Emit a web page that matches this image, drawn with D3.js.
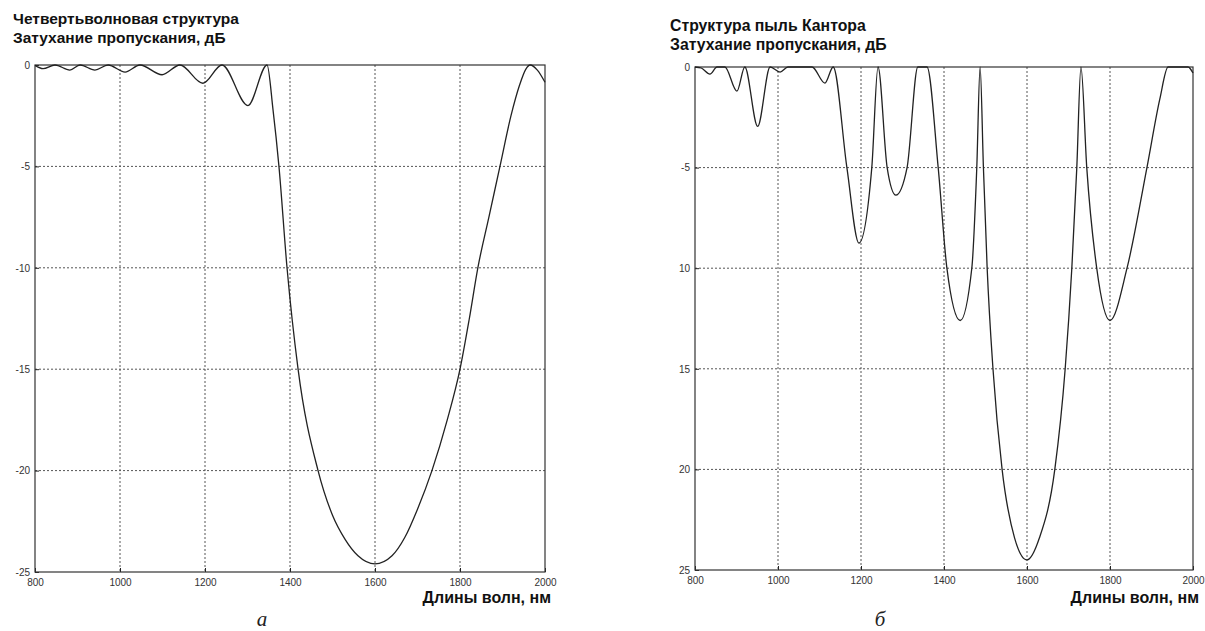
<!DOCTYPE html>
<html>
<head>
<meta charset="utf-8">
<script src="https://cdn.jsdelivr.net/npm/d3@7"></script>
<style>
  body { margin: 0; background: #fff; }
  svg { display: block; }
  .title { font-family: "Liberation Sans", Arial, sans-serif; font-weight: bold; fill: #111; }
  .tick text { font-family: "Liberation Sans Narrow", "Liberation Sans", Arial, sans-serif; font-size: 10px; fill: #333; }
  .xlabel { font-family: "Liberation Sans", Arial, sans-serif; font-weight: bold; font-size: 16px; fill: #111; }
  .caption { font-family: "Liberation Serif", "DejaVu Serif", serif; font-style: italic; font-size: 21px; fill: #222; }
</style>
</head>
<body>
<svg width="1205" height="631"></svg>
<script>
// data

var xTicks = [800, 1000, 1200, 1400, 1600, 1800, 2000];
var yTicks = [0, -5, -10, -15, -20, -25];
var leftYLabels = ["0", "-5", "-10", "-15", "-20", "-25"];
var rightYLabels = ["0", "-5", "10", "15", "20", "25"];

// (a) quarter-wave structure
var quarterNm = [800, 819, 847, 882, 906, 941, 972, 1012, 1047, 1099, 1141, 1195, 1240, 1301, 1346,
  1360, 1374, 1393, 1419, 1466, 1500, 1530, 1560, 1600, 1640, 1670, 1700, 1734, 1770,
  1800, 1822, 1842, 1868, 1894, 1920, 1940, 1955, 1965, 1982, 2000];
var quarterDb = [-0.02, -0.18, 0, -0.25, 0, -0.25, 0, -0.35, 0, -0.48, 0, -0.9, 0, -2.0, 0,
  -2.2, -5, -10, -15, -20, -22.2, -23.4, -24.2, -24.6, -24.2, -23.3, -21.9, -20, -17.5,
  -15, -12.5, -10, -7.5, -5, -2.5, -1.0, -0.2, 0, -0.25, -0.85];

// (б) Cantor dust structure
var cantorNm = [800, 815, 836, 853, 872, 901, 920, 951, 981, 1005, 1024, 1082, 1113, 1133, 1166,
  1195, 1226, 1241, 1263, 1284, 1311, 1337, 1359, 1386, 1407, 1439, 1467, 1479, 1487, 1495,
  1504, 1518, 1540, 1570, 1600, 1630, 1667, 1692, 1708, 1720, 1730, 1744, 1768, 1800, 1841,
  1889, 1920, 1940, 1988, 2000];
var cantorDb = [0, -0.05, -0.35, 0, 0, -1.2, 0, -2.95, 0, -0.25, 0, 0, -0.8, 0, -5,
  -8.75, -5, 0, -5, -6.37, -5, 0, 0, -5, -10, -12.6, -10, -5, 0, -5,
  -10, -15, -20, -23.4, -24.5, -23.4, -20, -15, -10, -5, 0, -5, -10, -12.6, -10,
  -5, -1.6, 0, 0, -0.3];

var svg = d3.select("svg");

function drawPanel(p) {
  var x = d3.scaleLinear().domain([800, 2000]).range([p.x0, p.x1]);
  var y = d3.scaleLinear().domain([-25, 0]).range([p.y1, p.y0]);
  var g = svg.append("g");

  // dotted grid
  g.selectAll(".vgrid")
    .data(xTicks.slice(1, -1))
    .enter().append("line")
    .attr("x1", function(d) { return x(d); })
    .attr("x2", function(d) { return x(d); })
    .attr("y1", p.y0).attr("y2", p.y1)
    .attr("stroke", "#555").attr("stroke-width", 1)
    .attr("stroke-dasharray", "2,2");
  g.selectAll(".hgrid")
    .data(yTicks.slice(1, -1))
    .enter().append("line")
    .attr("x1", p.x0).attr("x2", p.x1)
    .attr("y1", function(d) { return y(d); })
    .attr("y2", function(d) { return y(d); })
    .attr("stroke", "#555").attr("stroke-width", 1)
    .attr("stroke-dasharray", "2,2");

  // axes
  var xAxis = d3.axisBottom(x).tickValues(xTicks).tickSize(-4).tickPadding(7)
    .tickFormat(d3.format("d"));
  g.append("g")
    .attr("transform", "translate(0," + p.y1 + ")")
    .call(xAxis)
    .call(function(s) { s.select(".domain").remove(); s.selectAll("line").attr("stroke", "#222"); });

  var yAxis = d3.axisLeft(y).tickValues(yTicks).tickSize(-4).tickPadding(5)
    .tickFormat(function(d) { return p.yLabels[yTicks.indexOf(d)]; });
  g.append("g")
    .attr("transform", "translate(" + p.x0 + ",0)")
    .call(yAxis)
    .call(function(s) { s.select(".domain").remove(); s.selectAll("line").attr("stroke", "#222"); });

  // frame
  g.append("rect")
    .attr("x", p.x0).attr("y", p.y0)
    .attr("width", p.x1 - p.x0).attr("height", p.y1 - p.y0)
    .attr("fill", "none").attr("stroke", "#333").attr("stroke-width", 1.2);

  // curve
  var pts = p.nm.map(function(d, i) { return [d, p.db[i]]; });
  var line = d3.line()
    .x(function(d) { return x(d[0]); })
    .y(function(d) { return y(d[1]); })
    .curve(d3.curveMonotoneX);
  g.append("path")
    .datum(pts)
    .attr("d", line)
    .attr("fill", "none")
    .attr("stroke", "#222")
    .attr("stroke-width", 1.3);

  // titles
  g.append("text").attr("class", "title").attr("x", p.tx).attr("y", p.ty)
    .style("font-size", p.tsize + "px").text(p.title1);
  g.append("text").attr("class", "title").attr("x", p.tx).attr("y", p.ty + 19)
    .style("font-size", p.tsize + "px").text(p.title2);
  g.append("text").attr("class", "xlabel").attr("x", p.x1 + 6).attr("y", 603)
    .attr("text-anchor", "end").text("Длины волн, нм");
  g.append("text").attr("class", "caption").attr("x", p.cx).attr("y", 626)
    .attr("text-anchor", "middle").text(p.caption);
}

drawPanel({
  x0: 35, x1: 545, y0: 65, y1: 572,
  nm: quarterNm, db: quarterDb, yLabels: leftYLabels,
  tx: 13, ty: 24, tsize: 15.5,
  title1: "Четвертьволновая структура",
  title2: "Затухание пропускания, дБ",
  cx: 262, caption: "а"
});

drawPanel({
  x0: 695, x1: 1193, y0: 67, y1: 570,
  nm: cantorNm, db: cantorDb, yLabels: rightYLabels,
  tx: 670, ty: 31, tsize: 15.8,
  title1: "Структура пыль Кантора",
  title2: "Затухание пропускания, дБ",
  cx: 880, caption: "б"
});
</script>
</body>
</html>
